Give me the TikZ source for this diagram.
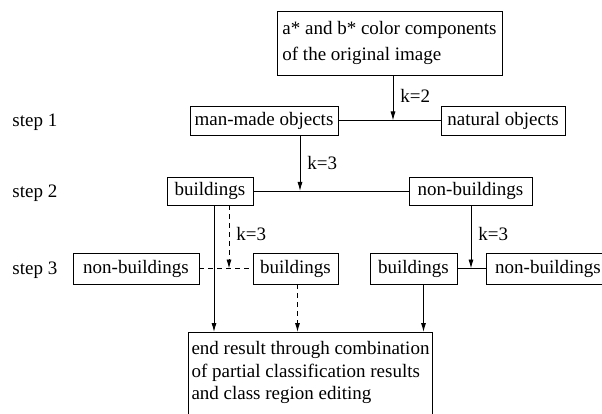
\documentclass[tikz,border=0pt]{standalone}
\usepackage{fontspec}
\setmainfont{Liberation Serif}
\usetikzlibrary{arrows.meta}
\tikzset{
  box/.style={draw, line width=0.9pt, inner xsep=3pt, inner ysep=0pt, minimum height=29pt},
  arr/.style={-{Latex[length=9pt,width=5pt]}},
  lbl/.style={inner sep=0pt, anchor=west},
}
\begin{document}
\begin{tikzpicture}[x=1pt,y=-1pt,line width=0.9pt,font=\fontsize{19}{26}\selectfont]
\useasboundingbox (0,0) rectangle (602,414);
\clip (0,0) rectangle (602,414);
% step labels
\node[lbl] (s1) at (12,122) {step 1};
\node[lbl] (s2) at (12,193) {step 2};
\node[lbl] (s3) at (12,270) {step 3};
% boxes
\node[box, anchor=north, minimum width=225pt, minimum height=64pt, align=left] (top) at (389.5,11) {a* and b* color components\\of the original image};
\node[box, minimum width=148pt] (man) at (264,120.5) {man-made objects};
\node[box, minimum width=124pt] (nat) at (503,120.5) {natural objects};
\node[box, minimum width=86pt, minimum height=28pt] (bld2) at (210,191) {buildings};
\node[box, minimum width=123pt, minimum height=28pt] (nonb2) at (470.5,191) {non-buildings};
\node[box, minimum width=126pt, minimum height=31pt] (nonb3a) at (136,268.5) {non-buildings};
\node[box, minimum width=85pt, minimum height=31pt] (bld3a) at (295.5,268.5) {buildings};
\node[box, minimum width=87pt, minimum height=31pt] (bld3b) at (413.5,268.5) {buildings};
\node[box, minimum width=124pt, minimum height=31pt] (nonb3b) at (548,268.5) {non-buildings};
\node[box, anchor=north, minimum width=241pt, align=left, inner ysep=9pt, font=\fontsize{19}{22.5}\selectfont] (end) at (310.5,332) {end result through combination\\of partial classification results\\and class region editing\\[-12pt]\mbox{}};
% junctions
\coordinate (j1) at (393,120.5);
\coordinate (j2) at (300,191);
\coordinate (j3) at (471,268.5);
\coordinate (j4) at (229,268.5);
% step 1
\draw (man) -- (nat);
\draw[arr] (j1 |- top.south) -- (j1) node[lbl, pos=0.45, xshift=7pt] (k1) {k=2};
% step 2
\draw (bld2) -- (nonb2);
\draw[arr] (j2 |- man.south) -- (j2) node[lbl, pos=0.5, xshift=7pt] (k2) {k=3};
% step 3
\draw (bld3b) -- (nonb3b);
\draw[arr] (j3 |- nonb2.south) -- (j3) node[lbl, pos=0.45, xshift=7pt] (k3) {k=3};
\draw[dash pattern=on 5pt off 4pt] (nonb3a) -- (bld3a);
\draw[arr, dash pattern=on 5pt off 4pt] (j4 |- bld2.south) -- (j4) node[lbl, pos=0.45, xshift=7pt] (k4) {k=3};
% to end result
\draw[arr] ([xshift=4pt]bld2.south) -- ([xshift=4pt]bld2.south |- end.north);
\draw[arr, dash pattern=on 5pt off 4pt] ([xshift=2pt]bld3a.south) -- ([xshift=2pt]bld3a.south |- end.north);
\draw[arr] ([xshift=10pt]bld3b.south) -- ([xshift=10pt]bld3b.south |- end.north);
\end{tikzpicture}
\end{document}
